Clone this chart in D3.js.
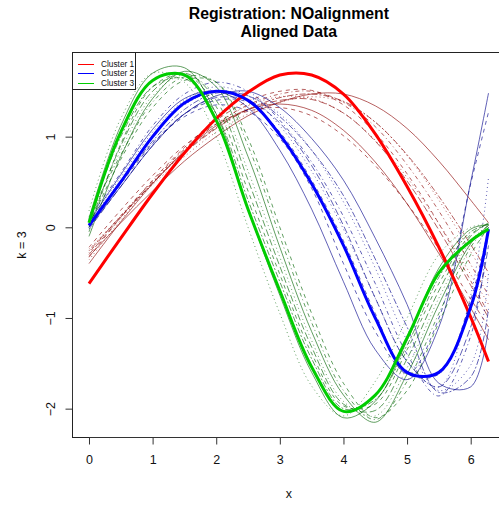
<!DOCTYPE html>
<html><head><meta charset="utf-8">
<script src="https://cdn.jsdelivr.net/npm/d3@7"></script>
<style>body{margin:0;background:#fff;} svg{display:block;font-family:"Liberation Sans",Arial,sans-serif;}</style>
</head><body><svg id="chart" width="499" height="508"></svg>
<script>
// ---------------- data ----------------
const xGrid = [0, 0.5, 1, 1.5, 2, 2.5, 3, 3.5, 4, 4.5, 5, 5.5, 6, 6.28];
const xTicks = [0, 1, 2, 3, 4, 5, 6];
const yTicks = [-2, -1, 0, 1];
const clusterNames = ["Cluster 1", "Cluster 2", "Cluster 3"];
const titleLines = ["Registration: NOalignment", "Aligned Data"];
const xLabel = "x";
const yLabel = "k = 3";

// cluster means (thick curves)
const cluster1Mean = [-0.62, -0.12, 0.37, 0.82, 1.2, 1.49, 1.68, 1.68, 1.47, 1.03, 0.45, -0.22, -0.99, -1.48];
const cluster2Mean = [0.02, 0.5, 1.0, 1.37, 1.5, 1.4, 1.02, 0.48, -0.2, -1.0, -1.6, -1.6, -0.88, -0.02];
const cluster3Mean = [0.05, 1.05, 1.62, 1.68, 1.18, 0.2, -0.7, -1.54, -2.03, -1.85, -1.22, -0.5, -0.15, -0.02];

// individual aligned curves (thin)
const cluster1Curves = [
  [-0.32, 0.05, 0.40, 0.73, 1.00, 1.23, 1.38, 1.47, 1.47, 1.34, 1.09, 0.73, 0.30, 0.05],
  [-0.22, 0.19, 0.57, 0.90, 1.14, 1.28, 1.32, 1.23, 1.01, 0.68, 0.26, -0.24, -0.79, -1.10],
  [-0.36, 0.08, 0.49, 0.86, 1.14, 1.34, 1.44, 1.42, 1.26, 0.96, 0.55, 0.04, -0.52, -0.85],
  [-0.28, 0.13, 0.51, 0.86, 1.14, 1.35, 1.47, 1.50, 1.38, 1.11, 0.69, 0.18, -0.41, -0.75],
  [-0.30, 0.11, 0.49, 0.83, 1.10, 1.30, 1.40, 1.41, 1.26, 0.95, 0.51, -0.03, -0.64, -1.00],
  [-0.26, 0.12, 0.49, 0.82, 1.09, 1.30, 1.43, 1.47, 1.39, 1.16, 0.80, 0.34, -0.19, -0.50],
  [-0.40, 0.06, 0.48, 0.84, 1.12, 1.30, 1.36, 1.29, 1.07, 0.72, 0.26, -0.29, -0.89, -1.24],
  [-0.33, 0.11, 0.52, 0.88, 1.18, 1.39, 1.50, 1.51, 1.35, 1.04, 0.59, 0.04, -0.59, -0.95],
  [-0.24, 0.12, 0.47, 0.78, 1.05, 1.25, 1.38, 1.44, 1.38, 1.16, 0.79, 0.30, -0.27, -0.60]
];
const cluster2Curves = [
  [0.06, 0.58, 1.08, 1.42, 1.50, 1.32, 0.85, 0.20, -0.60, -1.35, -1.68, -1.10, 0.50, 1.48],
  [0.00, 0.48, 0.92, 1.25, 1.40, 1.38, 1.05, 0.52, -0.15, -0.95, -1.62, -1.00, 0.48, 1.27],
  [0.08, 0.55, 1.05, 1.40, 1.55, 1.45, 1.12, 0.62, -0.02, -0.78, -1.48, -1.76, -0.75, 0.55],
  [0.10, 0.60, 1.12, 1.47, 1.60, 1.50, 1.18, 0.72, 0.12, -0.62, -1.40, -1.86, -1.20, 0.00],
  [-0.02, 0.45, 0.90, 1.25, 1.43, 1.40, 1.15, 0.68, 0.02, -0.78, -1.48, -1.76, -1.10, -0.20],
  [0.04, 0.50, 0.95, 1.30, 1.48, 1.45, 1.22, 0.85, 0.35, -0.35, -1.10, -1.82, -1.65, -0.90],
  [0.00, 0.45, 0.90, 1.25, 1.45, 1.50, 1.32, 0.98, 0.52, -0.12, -0.85, -1.72, -1.76, -1.12],
  [0.03, 0.50, 0.93, 1.22, 1.35, 1.28, 0.98, 0.43, -0.40, -1.15, -1.62, -1.62, -0.80, 0.00],
  [0.06, 0.52, 1.00, 1.35, 1.50, 1.45, 1.25, 0.85, 0.28, -0.45, -1.25, -1.80, -1.52, -0.50]
];
const cluster3Curves = [
  [0.10, 1.12, 1.70, 1.76, 1.25, 0.20, -0.75, -1.60, -2.10, -1.92, -1.25, -0.45, -0.02, 0.03],
  [-0.05, 0.92, 1.55, 1.69, 1.33, 0.40, -0.52, -1.39, -1.97, -1.95, -1.35, -0.62, -0.08, 0.04],
  [0.05, 0.85, 1.45, 1.68, 1.45, 0.62, -0.33, -1.25, -1.92, -2.08, -1.55, -0.78, -0.15, 0.02],
  [0.12, 0.80, 1.38, 1.66, 1.60, 0.90, -0.10, -1.05, -1.80, -2.12, -1.70, -0.95, -0.22, 0.03],
  [0.00, 0.90, 1.50, 1.70, 1.40, 0.52, -0.43, -1.32, -1.95, -2.02, -1.45, -0.70, -0.10, 0.05],
  [0.08, 1.00, 1.55, 1.64, 1.25, 0.30, -0.60, -1.45, -2.00, -1.90, -1.30, -0.55, -0.05, 0.03],
  [-0.10, 0.78, 1.42, 1.72, 1.55, 0.78, -0.22, -1.15, -1.85, -2.15, -1.62, -0.85, -0.18, 0.02],
  [0.02, 0.75, 1.32, 1.62, 1.60, 0.98, 0.00, -0.95, -1.72, -2.10, -1.80, -1.05, -0.30, 0.00],
  [0.18, 1.20, 1.70, 1.60, 1.00, 0.00, -0.95, -1.75, -2.08, -1.70, -1.00, -0.30, 0.00, 0.03]
];

// ---------------- styles ----------------
const meanColors = ["#FF0000", "#0000FF", "#00CD00"];
const thinColors = ["#8B0000", "#00008B", "#006400"];
const dashes = [null, "4,4", "1,3", "1,3,4,3", "7,3", "2,2,6,2"];

const svg = d3.select("#chart");
const W = 499, H = 508;
const plot = {left: 72.5, right: 504.7, top: 52.5, bottom: 437.5};

const x = d3.scaleLinear().domain([-0.2513, 6.5345]).range([73, 504.7]);
const y = d3.scaleLinear().domain([-2.316, 1.928]).range([437.3, 52.5]);

svg.append("rect").attr("width", W).attr("height", H).attr("fill", "#fff");

svg.append("clipPath").attr("id", "clip").append("rect")
  .attr("x", plot.left).attr("y", plot.top)
  .attr("width", plot.right - plot.left).attr("height", plot.bottom - plot.top);

const line = d3.line()
  .x((d, i) => x(xGrid[i]))
  .y(d => y(d))
  .curve(d3.curveCatmullRom.alpha(0.5));

const g = svg.append("g").attr("clip-path", "url(#clip)");

const thinSets = [cluster1Curves, cluster2Curves, cluster3Curves];
thinSets.forEach((set, ci) => {
  set.forEach((vals, k) => {
    g.append("path")
      .attr("d", line(vals))
      .attr("fill", "none")
      .attr("stroke", thinColors[ci])
      .attr("stroke-opacity", 0.62)
      .attr("stroke-width", 1)
      .attr("stroke-dasharray", dashes[k % dashes.length]);
  });
});

[cluster1Mean, cluster2Mean, cluster3Mean].forEach((vals, ci) => {
  g.append("path")
    .attr("d", line(vals))
    .attr("fill", "none")
    .attr("stroke", meanColors[ci])
    .attr("stroke-width", 3)
    .attr("stroke-linejoin", "round");
});

// box
svg.append("rect")
  .attr("x", plot.left).attr("y", plot.top)
  .attr("width", plot.right - plot.left).attr("height", plot.bottom - plot.top)
  .attr("fill", "none").attr("stroke", "#222").attr("stroke-width", 1);

// x axis
const xAxis = svg.append("g").attr("transform", `translate(0,${plot.bottom})`)
  .call(d3.axisBottom(x).tickValues(xTicks).tickSize(7).tickPadding(11).tickFormat(d3.format("d")));
xAxis.select(".domain").attr("d", `M${x(0)},0H${x(6)}`).attr("stroke", "#333");
xAxis.selectAll(".tick line").attr("stroke", "#333");
xAxis.selectAll("text").attr("font-size", 12.5).attr("fill", "#111").attr("font-family", "Liberation Sans, Arial, sans-serif");

// y axis
const yAxis = svg.append("g").attr("transform", `translate(${plot.left},0)`)
  .call(d3.axisLeft(y).tickValues(yTicks).tickSize(7).tickFormat(d3.format("d")));
yAxis.select(".domain").attr("d", `M0,${y(-2)}V${y(1)}`).attr("stroke", "#333");
yAxis.selectAll(".tick line").attr("stroke", "#333");
yAxis.selectAll("text")
  .attr("font-size", 12.5).attr("fill", "#111").attr("font-family", "Liberation Sans, Arial, sans-serif")
  .attr("x", 0).attr("y", 0).attr("dy", null)
  .attr("text-anchor", "middle")
  .attr("dominant-baseline", "central")
  .attr("transform", "translate(-22,0) rotate(-90)");

// axis titles
svg.append("text").attr("x", (73 + 504.7) / 2).attr("y", 498)
  .attr("text-anchor", "middle").attr("font-size", 12.5).attr("fill", "#111").text(xLabel);
svg.append("text")
  .attr("transform", `translate(22,${(plot.top + plot.bottom) / 2}) rotate(-90)`)
  .attr("text-anchor", "middle").attr("dominant-baseline", "central")
  .attr("font-size", 12.5).attr("fill", "#111").text(yLabel);

// title
titleLines.forEach((t, i) => {
  svg.append("text").attr("x", (73 + 504.7) / 2).attr("y", 19 + i * 17.5)
    .attr("text-anchor", "middle").attr("font-weight", "bold").attr("font-size", 15.8)
    .attr("fill", "#000").text(t);
});

// legend
const leg = svg.append("g");
leg.append("rect").attr("x", plot.left).attr("y", plot.top)
  .attr("width", 63).attr("height", 37)
  .attr("fill", "#fff").attr("stroke", "#222").attr("stroke-width", 1);
clusterNames.forEach((name, i) => {
  const yy = 63.5 + i * 9.5;
  leg.append("line").attr("x1", 78).attr("x2", 94).attr("y1", Math.round(yy) + 0.5).attr("y2", Math.round(yy) + 0.5)
    .attr("stroke", meanColors[i]).attr("stroke-width", 1);
  leg.append("text").attr("x", 101).attr("y", yy).attr("dominant-baseline", "central")
    .attr("font-size", 8.3).attr("fill", "#111").text(name);
});
</script></body></html>
